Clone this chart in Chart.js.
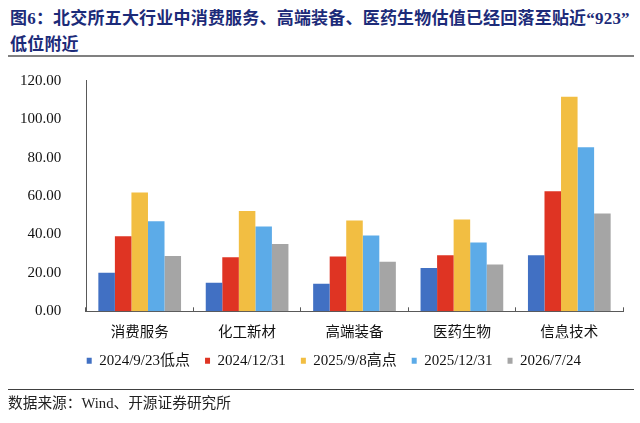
<!DOCTYPE html>
<html lang="zh-CN">
<head>
<meta charset="utf-8">
<title>北交所五大行业估值</title>
<script src="https://cdn.jsdelivr.net/npm/chart.js@4.4.1/dist/chart.umd.min.js"></script>
<style>
  html, body { margin: 0; padding: 0; background: #fff; }
  #wrap { position: relative; width: 640px; height: 423px; overflow: hidden; }
  #grafico { position: absolute; left: 0; top: 0; }
  .titulo {
    position: absolute; left: 10px; top: 6px;
    font-family: "Liberation Serif", "Noto Sans CJK SC", serif;
    font-weight: bold; font-size: 17px; line-height: 25.5px;
    letter-spacing: 0.2px; color: #1c2b79; white-space: nowrap;
  }
  .regua { position: absolute; left: 8px; width: 626px; }
  .regua.topo { top: 54.7px; height: 2px; background: #808080; }
  .regua.base { top: 388.5px; height: 1.5px; background: #404040; }
  .fonte {
    position: absolute; left: 8px; top: 393.3px;
    font-family: "Liberation Serif", "Noto Sans CJK SC", serif;
    font-size: 14.7px; line-height: 20px; color: #222; white-space: nowrap;
  }
</style>
</head>
<body>
<div id="wrap">
  <div class="titulo">图6：北交所五大行业中消费服务、高端装备、医药生物估值已经回落至贴近“923”<br>低位附近</div>
  <div class="regua topo"></div>
  <canvas id="grafico" width="640" height="423"></canvas>
  <div class="regua base"></div>
  <div class="fonte">数据来源：Wind、开源证券研究所</div>
</div>
<script>
// ====== DADOS ======
const categorias = ['消费服务', '化工新材', '高端装备', '医药生物', '信息技术'];
const series = ['2024/9/23低点', '2024/12/31', '2025/9/8高点', '2025/12/31', '2026/7/24'];
const baixa923 = [20.0, 14.8, 14.4, 22.5, 29.2];
const fim2024 = [39.0, 28.1, 28.5, 29.2, 62.5];
const alta908 = [61.8, 52.2, 47.3, 47.8, 111.7];
const fim2025 = [46.9, 44.1, 39.5, 35.8, 85.4];
const atual0724 = [28.8, 35.0, 25.8, 24.4, 50.9];
const ticksY = [0, 20, 40, 60, 80, 100, 120];

const cores = ['#4170C3', '#DF3423', '#F2BE42', '#5CABE8', '#A5A5A5'];
const valores = [baixa923, fim2024, alta908, fim2025, atual0724];

const serifa = '"Liberation Serif", "Noto Sans CJK SC", serif';

// ====== LEGENDA ======
// a legenda do original começa um pouco antes do meio, desloca a caixa dela
const deslocaLegenda = {
  id: 'deslocaLegenda',
  afterLayout(chart) {
    if (chart.legend) chart.legend.left = 71.7;
  },
};

// ====== GRAFICO ======
const ctx = document.getElementById('grafico').getContext('2d');

new Chart(ctx, {
  type: 'bar',
  data: {
    labels: categorias,
    datasets: series.map((nome, i) => ({
      label: nome,
      data: valores[i],
      backgroundColor: cores[i],
      borderWidth: 0,
      categoryPercentage: 0.77,
      barPercentage: 1,
    })),
  },
  plugins: [deslocaLegenda],
  options: {
    responsive: false,
    animation: false,
    layout: { padding: { left: 0, right: 17, top: 80.7, bottom: 44.7 } },
    plugins: {
      title: { display: false },
      tooltip: { enabled: false },
      legend: {
        position: 'bottom',
        align: 'start',
        labels: {
          boxWidth: 5,
          boxHeight: 6,
          padding: 15,
          color: '#111',
          font: { size: 15, family: serifa },
        },
      },
    },
    scales: {
      x: {
        grid: {
          display: true,
          drawOnChartArea: false,
          drawTicks: true,
          tickLength: -4,
          color: '#595959',
        },
        border: { display: true, color: '#595959', width: 1 },
        ticks: {
          padding: 15,
          maxRotation: 0,
          color: '#111',
          font: { size: 14.5, family: '"Noto Sans CJK SC", sans-serif' },
        },
        afterFit: scale => { scale.height = 27; },
      },
      y: {
        min: 0,
        max: 120,
        afterBuildTicks: scale => { scale.ticks = ticksY.map(v => ({ value: v })); },
        grid: { display: false },
        border: { display: true, color: '#595959', width: 1 },
        ticks: {
          padding: 16.7,
          color: '#111',
          font: { size: 15, family: serifa },
          callback: v => Number(v).toFixed(2),
        },
        afterFit: scale => { scale.width = 86; },
      },
    },
  },
});
</script>
</body>
</html>
